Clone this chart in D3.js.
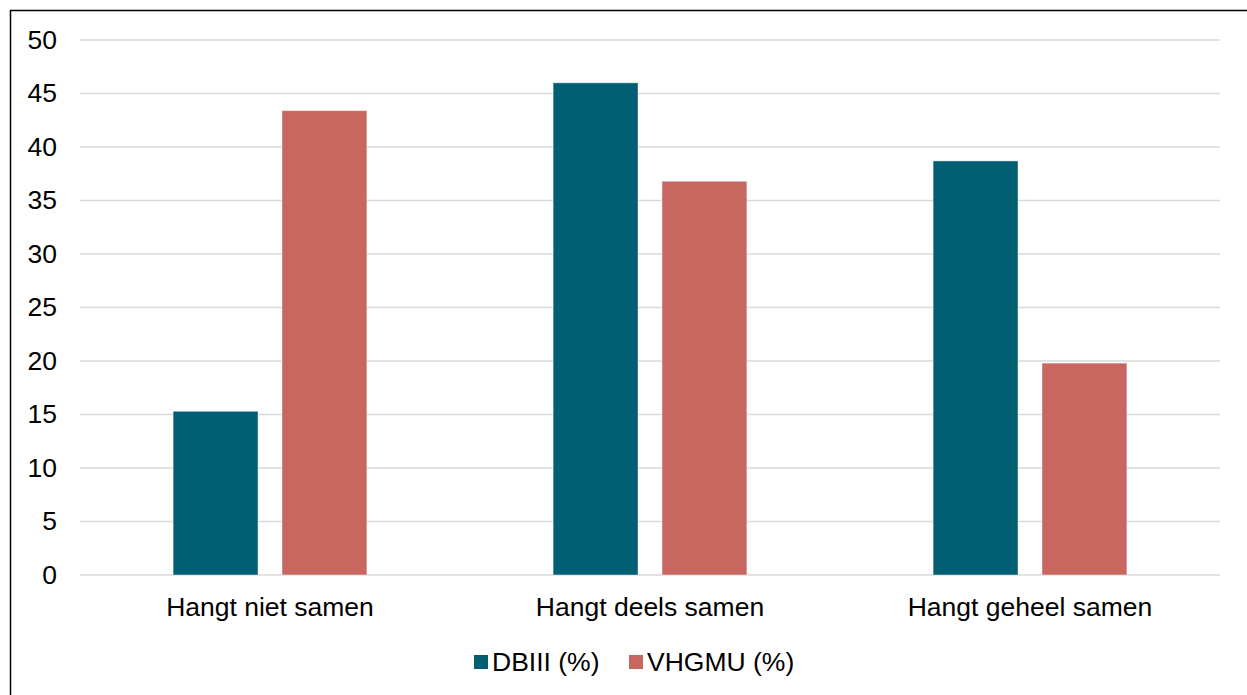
<!DOCTYPE html>
<html>
<head>
<meta charset="utf-8">
<script src="https://cdn.jsdelivr.net/npm/d3@7"></script>
<style>
  body { margin: 0; background: #fff; }
  svg { display: block; font-family: "Liberation Sans", Arial, sans-serif; }
  .grid line { stroke: #d9d9d9; stroke-width: 1.5; }
  .axis text { fill: #000; font-size: 26.5px; }
</style>
</head>
<body>
<div id="chart"></div>
<script>
const categories = ['Hangt niet samen', 'Hangt deels samen', 'Hangt geheel samen'];
const seriesNames = ['DBIII (%)', 'VHGMU (%)'];
const dbiii = [15.3, 46.0, 38.7];
const vhgmu = [43.4, 36.8, 19.8];
const yTicks = [0, 5, 10, 15, 20, 25, 30, 35, 40, 45, 50];
const colors = ['#025f73', '#c86660'];

const width = 1247, height = 695;
const margin = { top: 40, right: 27, bottom: 120, left: 80 };
const innerW = width - margin.left - margin.right;
const innerH = height - margin.top - margin.bottom;

const svg = d3.select('#chart').append('svg')
  .attr('width', width)
  .attr('height', height);

// outer frame (only top and left edges fall inside the picture)
svg.append('rect')
  .attr('x', 10.5).attr('y', 10.5)
  .attr('width', width).attr('height', height)
  .attr('fill', 'none').attr('stroke', '#000').attr('stroke-width', 1.5);

const chart = svg.append('g').attr('transform', `translate(${margin.left},${margin.top})`);

const y = d3.scaleLinear().domain([0, 50]).range([innerH, 0]);
const x0 = d3.scaleBand().domain(categories).range([0, innerW])
  .paddingInner(0.49).paddingOuter(0.245);
const x1 = d3.scaleBand().domain(seriesNames).range([0, x0.bandwidth()])
  .paddingInner(0.22);

const rows = categories.map((c, i) => ({ cat: c, values: [dbiii[i], vhgmu[i]] }));

// gridlines
chart.append('g').attr('class', 'grid')
  .selectAll('line').data(yTicks).join('line')
    .attr('x1', 0).attr('x2', innerW)
    .attr('y1', d => y(d)).attr('y2', d => y(d));

// bars
const groups = chart.selectAll('.grp').data(rows).join('g')
  .attr('class', 'grp')
  .attr('transform', d => `translate(${x0(d.cat)},0)`);

groups.selectAll('rect')
  .data(d => d.values.map((v, j) => ({ s: seriesNames[j], v, j })))
  .join('rect')
    .attr('x', d => x1(d.s))
    .attr('y', d => y(d.v))
    .attr('width', x1.bandwidth())
    .attr('height', d => y(0) - y(d.v))
    .attr('fill', d => colors[d.j])
    .attr('stroke', 'rgba(255,255,255,0.45)')
    .attr('stroke-width', 1);

// y axis labels
chart.append('g').attr('class', 'axis')
  .call(d3.axisLeft(y).tickValues(yTicks).tickSize(0).tickPadding(23))
  .call(g => g.select('.domain').remove());

// x axis labels
chart.append('g').attr('class', 'axis')
  .attr('transform', `translate(0,${innerH})`)
  .call(d3.axisBottom(x0).tickSize(0).tickPadding(22))
  .call(g => g.select('.domain').remove());

// legend
const legend = svg.append('g').attr('transform', 'translate(474,662)');
const legendX = [0, 155];
seriesNames.forEach((s, i) => {
  const g = legend.append('g').attr('transform', `translate(${legendX[i]},0)`);
  g.append('rect').attr('x', 0).attr('y', -7).attr('width', 14).attr('height', 14)
    .attr('fill', colors[i]);
  g.append('text').attr('x', 18).attr('y', 0).attr('dy', '0.35em')
    .attr('font-size', 26.5).attr('fill', '#000').text(s);
});
</script>
</body>
</html>
